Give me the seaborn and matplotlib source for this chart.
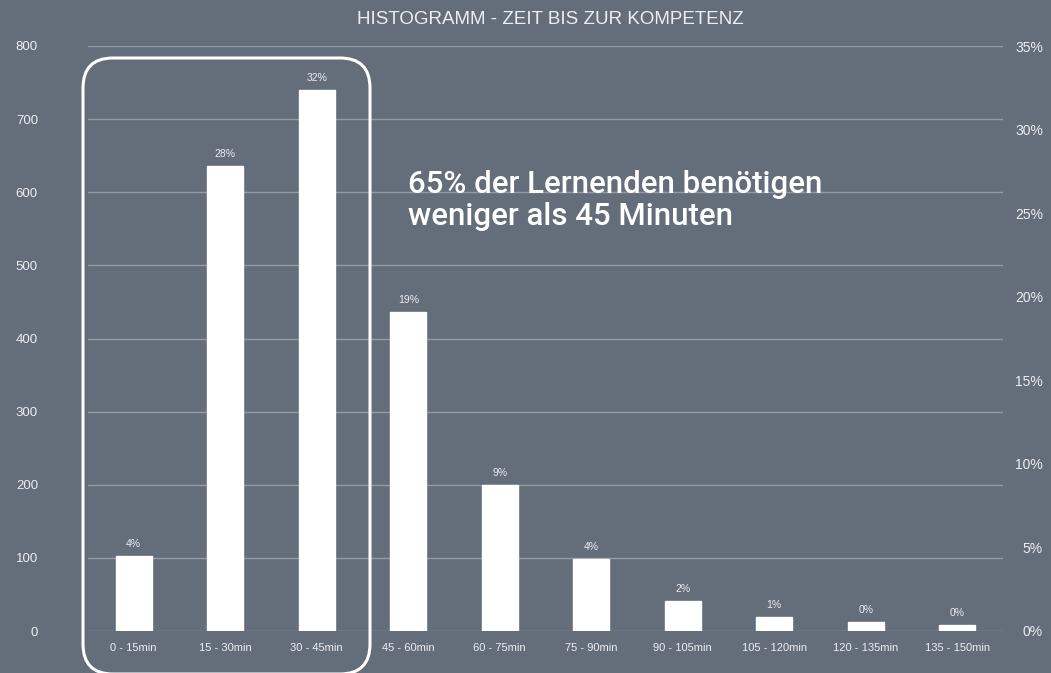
import matplotlib
matplotlib.use("Agg")
import matplotlib.pyplot as plt
import seaborn as sns
from matplotlib.patches import FancyBboxPatch
from matplotlib.transforms import IdentityTransform

categories = ["0 - 15min", "15 - 30min", "30 - 45min", "45 - 60min", "60 - 75min",
              "75 - 90min", "90 - 105min", "105 - 120min", "120 - 135min", "135 - 150min"]
counts = [102, 636, 740, 436, 200, 99, 41, 19, 12, 8]
pct_labels = ["4%", "28%", "32%", "19%", "9%", "4%", "2%", "1%", "0%", "0%"]
left_ticks = [0, 100, 200, 300, 400, 500, 600, 700, 800]
right_ticks = [0, 0.05, 0.10, 0.15, 0.20, 0.25, 0.30, 0.35]
right_labels = ["0%", "5%", "10%", "15%", "20%", "25%", "30%", "35%"]
title = "HISTOGRAMM - ZEIT BIS ZUR KOMPETENZ"
callout = "65% der Lernenden benötigen\nweniger als 45 Minuten"

BG = "#646d7a"
GRID = "#949ba5"
TXT = "#eceef1"

sns.set_theme(style="white")
plt.rcParams["font.family"] = ["Liberation Sans", "DejaVu Sans"]

W, H, DPI = 1051, 673, 100
PT = 72 / DPI  # points per pixel
fig = plt.figure(figsize=(W / DPI, H / DPI), dpi=DPI, facecolor=BG)
ax = fig.add_axes([88 / W, 1 - 631 / H, (1003 - 88) / W, (631 - 46) / H])
ax.set_facecolor(BG)

sns.barplot(x=categories, y=counts, color="white", saturation=1, width=0.39,
            ax=ax, zorder=3)
ax.set_xlim(-0.5, len(categories) - 0.5)
ax.set_ylim(0, 800)
ax.set_yticks(left_ticks)
ax.set_xlabel("")
ax.set_ylabel("")
for s in ax.spines.values():
    s.set_visible(False)
ax.grid(axis="y", color=GRID, linewidth=1.0, zorder=0)
ax.set_axisbelow(True)
ax.tick_params(axis="y", length=0, pad=50 * PT, labelsize=9.5, labelcolor=TXT)
ax.tick_params(axis="x", length=0, pad=12 * PT, labelsize=8, labelcolor=TXT)

for i, (v, lab) in enumerate(zip(counts, pct_labels)):
    ax.annotate(lab, (i, v), xytext=(0, 7 * PT), textcoords="offset points",
                ha="center", va="bottom", fontsize=7.5, color=TXT)

ax2 = ax.twinx()
ax2.set_ylim(0, 0.35)
ax2.set_yticks(right_ticks)
ax2.set_yticklabels(right_labels)
for s in ax2.spines.values():
    s.set_visible(False)
ax2.tick_params(axis="y", length=0, pad=40 * PT, labelsize=10, labelcolor=TXT)
for t in ax2.get_yticklabels():
    t.set_horizontalalignment("right")
ax2.grid(False)

fig.text(0.524, 1 - 19 / H, title, ha="center", va="center", fontsize=13.5,
         color=TXT)

fig.text(408 / W, 1 - 170 / H, callout, ha="left", va="top", fontsize=22.5,
         color="white", linespacing=1.12, fontweight=500,
         family=["Roboto", "Liberation Sans", "DejaVu Sans"])

box = FancyBboxPatch((83, 673 - 674), 370 - 83, 674 - 58,
                     boxstyle="round,pad=0,rounding_size=30",
                     transform=IdentityTransform(), fill=False,
                     edgecolor="white", linewidth=2.2, clip_on=False, zorder=10)
fig.add_artist(box)

fig.savefig("out.png", dpi=DPI, facecolor=BG)
